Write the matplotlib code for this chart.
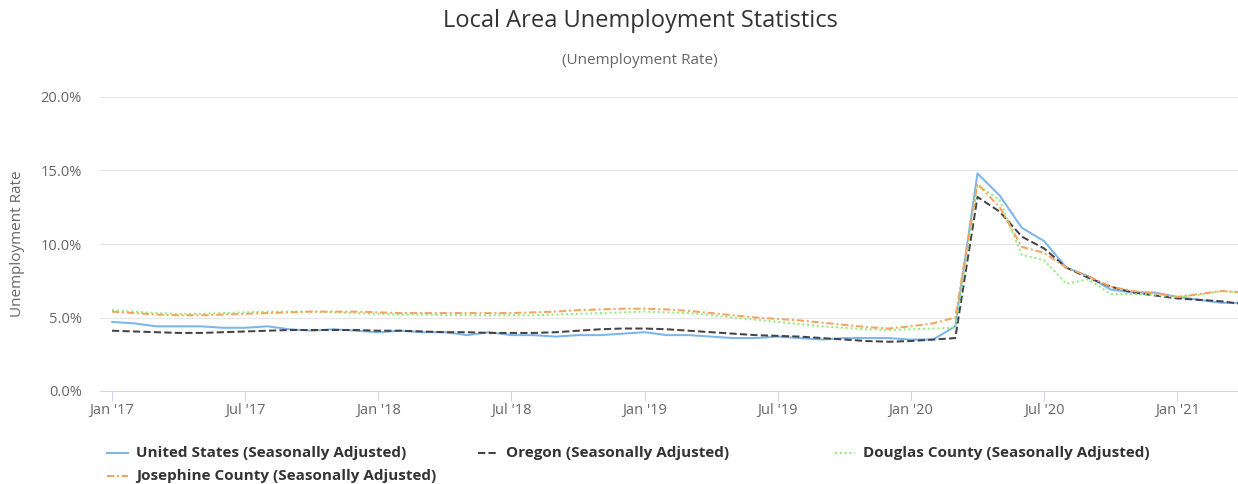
import matplotlib
matplotlib.use("Agg")
import matplotlib.pyplot as plt
from matplotlib.lines import Line2D
from matplotlib.ticker import FuncFormatter

# Monthly rates, Jan 2017 - Apr 2021 (percent)
us_rate = [
    4.7, 4.6, 4.4, 4.4, 4.4, 4.3, 4.3, 4.4, 4.2, 4.1, 4.2, 4.1,
    4.0, 4.1, 4.0, 4.0, 3.8, 4.0, 3.8, 3.8, 3.7, 3.8, 3.8, 3.9,
    4.0, 3.8, 3.8, 3.7, 3.6, 3.6, 3.7, 3.6, 3.5, 3.6, 3.6, 3.6,
    3.5, 3.5, 4.4, 14.8, 13.3, 11.1, 10.2, 8.4, 7.8, 6.9, 6.7, 6.7,
    6.4, 6.2, 6.0, 6.0,
]
oregon_rate = [
    4.1, 4.05, 4.0, 3.95, 3.95, 4.0, 4.05, 4.1, 4.15, 4.15, 4.15, 4.15,
    4.1, 4.1, 4.05, 4.0, 4.0, 3.95, 3.95, 3.95, 4.0, 4.1, 4.2, 4.25,
    4.25, 4.2, 4.1, 4.0, 3.9, 3.8, 3.75, 3.7, 3.6, 3.5, 3.4, 3.35,
    3.4, 3.5, 3.6, 13.2, 12.2, 10.5, 9.7, 8.4, 7.7, 7.1, 6.7, 6.5,
    6.3, 6.2, 6.1, 5.9,
]
douglas_rate = [
    5.5, 5.4, 5.3, 5.25, 5.25, 5.3, 5.35, 5.4, 5.4, 5.4, 5.35, 5.3,
    5.25, 5.2, 5.2, 5.15, 5.15, 5.15, 5.15, 5.15, 5.2, 5.25, 5.3, 5.35,
    5.4, 5.35, 5.3, 5.15, 5.0, 4.85, 4.7, 4.55, 4.4, 4.3, 4.2, 4.15,
    4.2, 4.25, 4.3, 14.0, 13.0, 9.25, 8.9, 7.3, 7.6, 6.6, 6.6, 6.55,
    6.4, 6.55, 6.8, 6.7,
]
josephine_rate = [
    5.4, 5.3, 5.2, 5.15, 5.15, 5.2, 5.25, 5.3, 5.35, 5.4, 5.4, 5.4,
    5.35, 5.3, 5.3, 5.3, 5.3, 5.3, 5.3, 5.35, 5.4, 5.5, 5.55, 5.6,
    5.6, 5.55, 5.45, 5.3, 5.15, 5.0, 4.9, 4.8, 4.65, 4.5, 4.35, 4.25,
    4.4, 4.6, 5.0, 14.1, 12.5, 9.8, 9.4, 8.4, 7.8, 7.1, 6.8, 6.65,
    6.4, 6.6, 6.8, 6.7,
]

tick_pos = [0, 6, 12, 18, 24, 30, 36, 42, 48]
tick_labels = ["Jan '17", "Jul '17", "Jan '18", "Jul '18", "Jan '19",
               "Jul '19", "Jan '20", "Jul '20", "Jan '21"]

series = [
    ("United States (Seasonally Adjusted)", us_rate, "#7cb5ec", "-"),
    ("Oregon (Seasonally Adjusted)", oregon_rate, "#434348", (0, (3.6, 1.6))),
    ("Douglas County (Seasonally Adjusted)", douglas_rate, "#90ed7d", (0, (1.0, 1.4))),
    ("Josephine County (Seasonally Adjusted)", josephine_rate, "#f7a35c", (0, (3.6, 1.4, 1.0, 1.4))),
]

plt.rcParams["font.family"] = ["Open Sans", "DejaVu Sans"]

W, H = 1238, 484
fig = plt.figure(figsize=(W / 100, H / 100), dpi=100)


def fx(x):
    return x / W


def fy(y):
    return 1 - y / H


ax = fig.add_axes([fx(100), fy(391), fx(1238) - fx(100), fy(97) - fy(391)])

for name, vals, color, ls in series:
    ax.plot(range(len(vals)), vals, color=color, linestyle=ls, lw=1.45,
            solid_capstyle="round", dash_capstyle="butt")

ax.set_xlim(-0.54, 50.74)
ax.set_ylim(0, 20)
ax.set_yticks([0, 5, 10, 15, 20])
ax.yaxis.set_major_formatter(FuncFormatter(lambda v, p: f"{v:.1f}%"))
ax.set_xticks(tick_pos)
ax.set_xticklabels(tick_labels)

ax.grid(axis="y", color="#e6e6e6", lw=0.75)
ax.set_axisbelow(True)
for s in ["top", "right", "left"]:
    ax.spines[s].set_visible(False)
ax.spines["bottom"].set_color("#ccd6eb")
ax.spines["bottom"].set_linewidth(0.75)

ax.tick_params(axis="y", length=0, pad=13, labelsize=10.5, labelcolor="#666666")
ax.tick_params(axis="x", length=7.2, width=0.75, color="#ccd6eb", pad=1.5,
               labelsize=10.5, labelcolor="#666666")

fig.text(fx(18), fy(244), "Unemployment Rate", rotation=90, ha="center", va="center",
         fontsize=11, color="#666666")

fig.text(fx(640), fy(21), "Local Area Unemployment Statistics", ha="center", va="center",
         fontsize=17, color="#333333")
fig.text(fx(640), fy(61), "(Unemployment Rate)", ha="center", va="center",
         fontsize=11, color="#666666")

# legend drawn by hand to keep the uneven column spacing
legend_pos = [(107, 128, 136, 453), (478, 498, 506, 453), (835, 855, 863, 453), (107, 128, 136, 476)]
for (name, vals, color, ls), (x0, x1, tx, y) in zip(series, legend_pos):
    fig.add_artist(Line2D([fx(x0), fx(x1)], [fy(y), fy(y)], color=color, linestyle=ls,
                          lw=1.45, transform=fig.transFigure))
    fig.text(fx(tx), fy(y), name, ha="left", va="center", fontsize=11,
             fontweight="bold", color="#333333")

fig.savefig("out.png", dpi=100)
plt.close(fig)
